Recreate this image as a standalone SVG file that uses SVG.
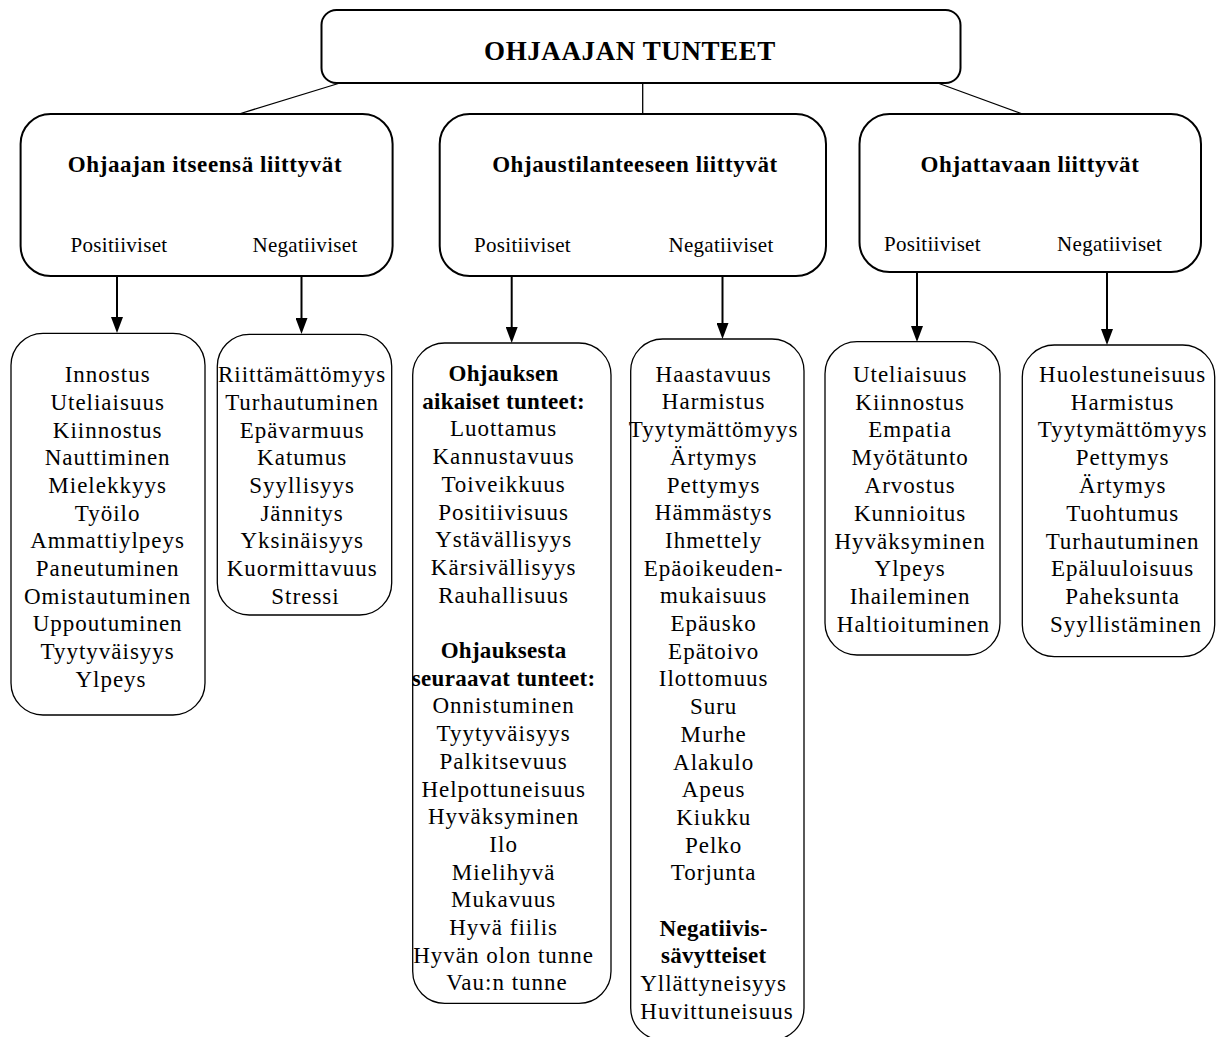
<svg xmlns="http://www.w3.org/2000/svg" width="1216" height="1037" viewBox="0 0 1216 1037">
<defs>
<marker id="arr" markerUnits="userSpaceOnUse" markerWidth="16" markerHeight="12" refX="4" refY="6" orient="auto">
<path d="M0,0 L16,6 L0,12 z" fill="#000"/>
</marker>
<style>
.main{fill:#fff;stroke:#000;stroke-width:2}
.list{fill:#fff;stroke:#000;stroke-width:1.3}
.conn{stroke:#000;stroke-width:1.3;fill:none}
.arrow{stroke:#000;stroke-width:2;fill:none}
text{font-family:"Liberation Serif","Times New Roman",serif;fill:#000;text-anchor:middle}
.title{font-size:27px;font-weight:bold;letter-spacing:0.6px}
.head{font-size:23px;font-weight:bold;letter-spacing:0.6px}
.sub{font-size:21px;letter-spacing:0.3px}
.item{font-size:23px;letter-spacing:1px}
.b{font-weight:bold;letter-spacing:0.3px}
</style>
</defs>
<rect width="1216" height="1037" fill="#fff"/>
<g id="connectors">
<line class="conn" x1="340" y1="83" x2="239" y2="114"/>
<line class="conn" x1="642.7" y1="83" x2="642.7" y2="114"/>
<line class="conn" x1="937.7" y1="83" x2="1022.6" y2="114"/>
<line class="arrow" x1="117" y1="276" x2="117" y2="321" marker-end="url(#arr)"/>
<line class="arrow" x1="301.5" y1="276" x2="301.5" y2="322" marker-end="url(#arr)"/>
<line class="arrow" x1="511.7" y1="276" x2="511.7" y2="331" marker-end="url(#arr)"/>
<line class="arrow" x1="722.5" y1="276" x2="722.5" y2="327" marker-end="url(#arr)"/>
<line class="arrow" x1="917" y1="272" x2="917" y2="330" marker-end="url(#arr)"/>
<line class="arrow" x1="1107" y1="272" x2="1107" y2="333" marker-end="url(#arr)"/>
</g>
<g id="root">
<rect class="main" x="321.5" y="10" width="639" height="73" rx="15"/>
<text class="title" x="630" y="60">OHJAAJAN TUNTEET</text>
</g>
<g id="self">
<rect class="main" x="20.6" y="114" width="372" height="162" rx="30"/>
<text class="head" x="205" y="172">Ohjaajan itseensä liittyvät</text>
<text class="sub" x="119" y="252">Positiiviset</text>
<text class="sub" x="305" y="252">Negatiiviset</text>
</g>
<g id="situation">
<rect class="main" x="439.7" y="114" width="386.3" height="162" rx="30"/>
<text class="head" x="635" y="172">Ohjaustilanteeseen liittyvät</text>
<text class="sub" x="522.5" y="252">Positiiviset</text>
<text class="sub" x="721" y="252">Negatiiviset</text>
</g>
<g id="client">
<rect class="main" x="859.5" y="114" width="341.5" height="158" rx="30"/>
<text class="head" x="1030" y="172">Ohjattavaan liittyvät</text>
<text class="sub" x="932.4" y="251">Positiiviset</text>
<text class="sub" x="1109.6" y="251">Negatiiviset</text>
</g>
<g id="self-pos">
<rect class="list" x="11" y="333.3" width="194" height="381.7" rx="32"/>
<text class="item" y="382.3">
<tspan x="111" dy="0">Innostus</tspan>
<tspan x="111" dy="27.67">Uteliaisuus</tspan>
<tspan x="111" dy="27.67">Kiinnostus</tspan>
<tspan x="111" dy="27.67">Nauttiminen</tspan>
<tspan x="111" dy="27.67">Mielekkyys</tspan>
<tspan x="111" dy="27.67">Työilo</tspan>
<tspan x="111" dy="27.67">Ammattiylpeys</tspan>
<tspan x="111" dy="27.67">Paneutuminen</tspan>
<tspan x="111" dy="27.67">Omistautuminen</tspan>
<tspan x="111" dy="27.67">Uppoutuminen</tspan>
<tspan x="111" dy="27.67">Tyytyväisyys</tspan>
<tspan x="111" dy="27.67">Ylpeys</tspan>
</text>
</g>
<g id="self-neg">
<rect class="list" x="217.3" y="334.3" width="174.4" height="280.7" rx="32"/>
<text class="item" y="382.3">
<tspan x="305.5" dy="0">Riittämättömyys</tspan>
<tspan x="305.5" dy="27.67">Turhautuminen</tspan>
<tspan x="305.5" dy="27.67">Epävarmuus</tspan>
<tspan x="305.5" dy="27.67">Katumus</tspan>
<tspan x="305.5" dy="27.67">Syyllisyys</tspan>
<tspan x="305.5" dy="27.67">Jännitys</tspan>
<tspan x="305.5" dy="27.67">Yksinäisyys</tspan>
<tspan x="305.5" dy="27.67">Kuormittavuus</tspan>
<tspan x="305.5" dy="27.67">Stressi</tspan>
</text>
</g>
<g id="situation-pos">
<rect class="list" x="412.7" y="343" width="198.3" height="660.3" rx="32"/>
<text class="item" y="381">
<tspan x="507" dy="0" class="b">Ohjauksen</tspan>
<tspan x="507" dy="27.7" class="b">aikaiset tunteet:</tspan>
<tspan x="507" dy="27.7">Luottamus</tspan>
<tspan x="507" dy="27.7">Kannustavuus</tspan>
<tspan x="507" dy="27.7">Toiveikkuus</tspan>
<tspan x="507" dy="27.7">Positiivisuus</tspan>
<tspan x="507" dy="27.7">Ystävällisyys</tspan>
<tspan x="507" dy="27.7">Kärsivällisyys</tspan>
<tspan x="507" dy="27.7">Rauhallisuus</tspan>
<tspan x="507" dy="55.4" class="b">Ohjauksesta</tspan>
<tspan x="507" dy="27.7" class="b">seuraavat tunteet:</tspan>
<tspan x="507" dy="27.7">Onnistuminen</tspan>
<tspan x="507" dy="27.7">Tyytyväisyys</tspan>
<tspan x="507" dy="27.7">Palkitsevuus</tspan>
<tspan x="507" dy="27.7">Helpottuneisuus</tspan>
<tspan x="507" dy="27.7">Hyväksyminen</tspan>
<tspan x="507" dy="27.7">Ilo</tspan>
<tspan x="507" dy="27.7">Mielihyvä</tspan>
<tspan x="507" dy="27.7">Mukavuus</tspan>
<tspan x="507" dy="27.7">Hyvä fiilis</tspan>
<tspan x="507" dy="27.7">Hyvän olon tunne</tspan>
<tspan x="507" dy="27.7">Vau:n tunne</tspan>
</text>
</g>
<g id="situation-neg">
<rect class="list" x="630.7" y="339" width="173.3" height="701" rx="32"/>
<text class="item" y="381.7">
<tspan x="717" dy="0">Haastavuus</tspan>
<tspan x="717" dy="27.7">Harmistus</tspan>
<tspan x="717" dy="27.7">Tyytymättömyys</tspan>
<tspan x="717" dy="27.7">Ärtymys</tspan>
<tspan x="717" dy="27.7">Pettymys</tspan>
<tspan x="717" dy="27.7">Hämmästys</tspan>
<tspan x="717" dy="27.7">Ihmettely</tspan>
<tspan x="717" dy="27.7">Epäoikeuden-</tspan>
<tspan x="717" dy="27.7">mukaisuus</tspan>
<tspan x="717" dy="27.7">Epäusko</tspan>
<tspan x="717" dy="27.7">Epätoivo</tspan>
<tspan x="717" dy="27.7">Ilottomuus</tspan>
<tspan x="717" dy="27.7">Suru</tspan>
<tspan x="717" dy="27.7">Murhe</tspan>
<tspan x="717" dy="27.7">Alakulo</tspan>
<tspan x="717" dy="27.7">Apeus</tspan>
<tspan x="717" dy="27.7">Kiukku</tspan>
<tspan x="717" dy="27.7">Pelko</tspan>
<tspan x="717" dy="27.7">Torjunta</tspan>
<tspan x="717" dy="55.4" class="b">Negatiivis-</tspan>
<tspan x="717" dy="27.7" class="b">sävytteiset</tspan>
<tspan x="717" dy="27.7">Yllättyneisyys</tspan>
<tspan x="717" dy="27.7">Huvittuneisuus</tspan>
</text>
</g>
<g id="client-pos">
<rect class="list" x="825" y="341.7" width="175" height="313.3" rx="32"/>
<text class="item" y="381.7">
<tspan x="913.5" dy="0">Uteliaisuus</tspan>
<tspan x="913.5" dy="27.8">Kiinnostus</tspan>
<tspan x="913.5" dy="27.8">Empatia</tspan>
<tspan x="913.5" dy="27.8">Myötätunto</tspan>
<tspan x="913.5" dy="27.8">Arvostus</tspan>
<tspan x="913.5" dy="27.8">Kunnioitus</tspan>
<tspan x="913.5" dy="27.8">Hyväksyminen</tspan>
<tspan x="913.5" dy="27.8">Ylpeys</tspan>
<tspan x="913.5" dy="27.8">Ihaileminen</tspan>
<tspan x="913.5" dy="27.8">Haltioituminen</tspan>
</text>
</g>
<g id="client-neg">
<rect class="list" x="1022.3" y="345" width="192.4" height="311.7" rx="32"/>
<text class="item" y="381.7">
<tspan x="1126" dy="0">Huolestuneisuus</tspan>
<tspan x="1126" dy="27.8">Harmistus</tspan>
<tspan x="1126" dy="27.8">Tyytymättömyys</tspan>
<tspan x="1126" dy="27.8">Pettymys</tspan>
<tspan x="1126" dy="27.8">Ärtymys</tspan>
<tspan x="1126" dy="27.8">Tuohtumus</tspan>
<tspan x="1126" dy="27.8">Turhautuminen</tspan>
<tspan x="1126" dy="27.8">Epäluuloisuus</tspan>
<tspan x="1126" dy="27.8">Paheksunta</tspan>
<tspan x="1126" dy="27.8">Syyllistäminen</tspan>
</text>
</g>
</svg>
